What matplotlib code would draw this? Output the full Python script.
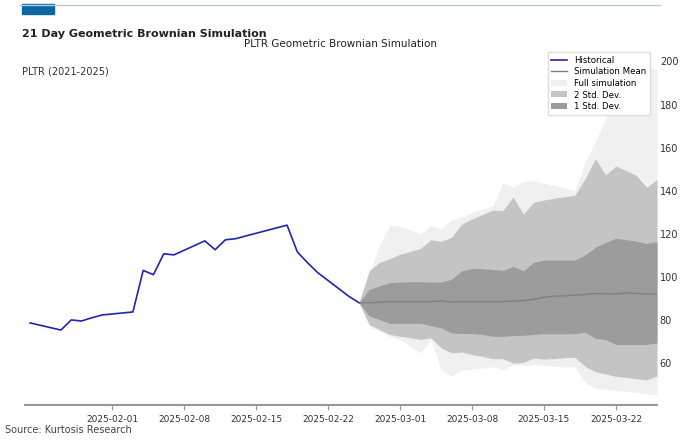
import numpy as np
import pandas as pd
import matplotlib.pyplot as plt
import matplotlib.patches as mpatches

hist_dates = pd.to_datetime([
    "2025-01-24", "2025-01-27", "2025-01-28", "2025-01-29", "2025-01-30", "2025-01-31",
    "2025-02-03", "2025-02-04", "2025-02-05", "2025-02-06", "2025-02-07", "2025-02-10",
    "2025-02-11", "2025-02-12", "2025-02-13", "2025-02-14", "2025-02-18", "2025-02-19",
    "2025-02-20", "2025-02-21", "2025-02-24", "2025-02-25"])
hist_vals = [78.6, 75.3, 80.0, 79.5, 81.0, 82.3, 83.7, 103.0, 101.0, 110.7, 110.2, 116.7,
             112.6, 117.2, 117.7, 119.0, 124.0, 111.6, 106.5, 101.9, 91.0, 88.0]

sim_dates = pd.date_range("2025-02-25", "2025-03-26", freq="D")
sim_mean = [88, 88, 88.2, 88.5, 88.5, 88.5, 88.5, 88.5, 88.8, 88.3, 88.5, 88.5, 88.5, 88.5, 88.5,
            88.7, 89, 89.5, 90.5, 91, 91.2, 91.5, 91.8, 92.3, 92.1, 92.1, 92.5, 92.3, 92, 92]
sd1_up = [88, 94.2, 95.8, 97.3, 97.6, 97.7, 97.7, 97.6, 97.6, 98.9, 102.8, 103.9, 103.8, 103.4,
          103, 104.8, 102.8, 106.7, 107.8, 107.8, 107.8, 107.8, 110.2, 113.7, 116, 117.9, 117.3,
          116.5, 115.5, 116.3]
sd1_lo = [88, 81.8, 80.2, 78.4, 78.4, 78.4, 78.4, 77.4, 76.3, 74, 73.7, 73.7, 73.3, 72.4, 72.4,
          72.7, 72.9, 73.2, 73.6, 73.6, 73.6, 73.6, 74.3, 71.5, 70.9, 68.6, 68.6, 68.6, 68.6, 69.3]
sd2_up = [88, 102.8, 106.7, 108.5, 110.5, 111.8, 113.2, 117.2, 116.5, 118.3, 124.5, 126.9, 128.9,
          131, 130.7, 137, 129.2, 134.6, 135.7, 136.5, 137.2, 137.8, 145.5, 154.9, 147.4, 151.4,
          149.4, 147, 141.5, 145.2]
sd2_lo = [88, 77.9, 75.5, 73.2, 72.4, 71.7, 70.9, 71.7, 67, 64.7, 65.1, 63.9, 63.1, 62, 62, 60,
          60.3, 62.3, 61.8, 62.1, 62.4, 62.7, 58.4, 56, 54.9, 53.8, 53.3, 52.7, 52.2, 54]
full_up = [88, 102, 114.4, 124, 123.4, 121.9, 119.9, 123.8, 122.2, 126.4, 127.7, 130, 131.5,
           132.8, 143.5, 141.6, 144.3, 144.5, 143.5, 142.4, 141.3, 140, 153.3, 162.6, 173.5,
           185, 195, 200, 198, 196]
full_lo = [88, 77, 74.8, 72.4, 70.9, 67.8, 64.7, 70.9, 56.9, 54, 56.6, 57.2, 57.7, 58.2, 57,
           59.2, 58.7, 59.2, 58.9, 58.4, 58.1, 58.4, 50.7, 48.3, 47.8, 47.2, 46.8, 46.3, 45.7, 45.2]

fig = plt.figure(figsize=(6.8, 4.4), dpi=100)
ax = fig.add_axes([25 / 680, 35 / 440, 632 / 680, 350 / 440])

ax.fill_between(sim_dates, full_lo, full_up, color="#f0f0f0", lw=0, label="Full simulation")
ax.fill_between(sim_dates, sd2_lo, sd2_up, color="#c4c4c4", lw=0, label="2 Std. Dev.")
ax.fill_between(sim_dates, sd1_lo, sd1_up, color="#9c9c9c", lw=0, label="1 Std. Dev.")
ax.plot(sim_dates, sim_mean, color="#808080", lw=1, label="Simulation Mean")
ax.plot(hist_dates, hist_vals, color="#2222bb", lw=1.2, label="Historical")

ax.set_xlim(pd.Timestamp("2025-01-23 12:00"), pd.Timestamp("2025-03-26"))
ax.set_ylim(40.5, 203)
ticks = ["2025-02-01", "2025-02-08", "2025-02-15", "2025-02-22",
         "2025-03-01", "2025-03-08", "2025-03-15", "2025-03-22"]
ax.set_xticks(pd.to_datetime(ticks))
ax.set_xticklabels(ticks)
ax.set_yticks([60, 80, 100, 120, 140, 160, 180, 200])
ax.yaxis.tick_right()
ax.tick_params(axis="y", length=0, pad=2, labelsize=7, colors="#333333")
ax.tick_params(axis="x", labelsize=6.5, colors="#333333", color="#999999")
for s in ["top", "left", "right"]:
    ax.spines[s].set_visible(False)
ax.spines["bottom"].set_color("#999999")
ax.spines["bottom"].set_linewidth(1.5)

h, l = ax.get_legend_handles_labels()
order = ["Historical", "Simulation Mean", "Full simulation", "2 Std. Dev.", "1 Std. Dev."]
hd = dict(zip(l, h))
ax.legend([hd[k] for k in order], order, loc="upper right", bbox_to_anchor=(0.995, 1.02),
          fontsize=6.2, framealpha=1, edgecolor="#dddddd", fancybox=False,
          borderpad=0.4, labelspacing=0.3, handlelength=1.8)

fig.add_artist(plt.Line2D([0.03, 0.97], [0.988, 0.988], color="#b8c8d8", lw=1))
fig.add_artist(mpatches.Rectangle((22 / 680, 426 / 440), 32 / 680, 10 / 440,
                                  color="#0a67a3", transform=fig.transFigure))
fig.text(22 / 680, 1 - 34 / 440, "21 Day Geometric Brownian Simulation", fontsize=8,
         fontweight="bold", color="#222222", va="center")
fig.text(340 / 680, 1 - 44 / 440, "PLTR Geometric Brownian Simulation", fontsize=7.5,
         color="#222222", ha="center", va="center")
fig.text(22 / 680, 1 - 71 / 440, "PLTR (2021-2025)", fontsize=7, color="#333333", va="center")
fig.text(5 / 680, 1 - 430 / 440, "Source: Kurtosis Research", fontsize=7, color="#444444",
         va="center")

fig.savefig("out.png", dpi=100)
